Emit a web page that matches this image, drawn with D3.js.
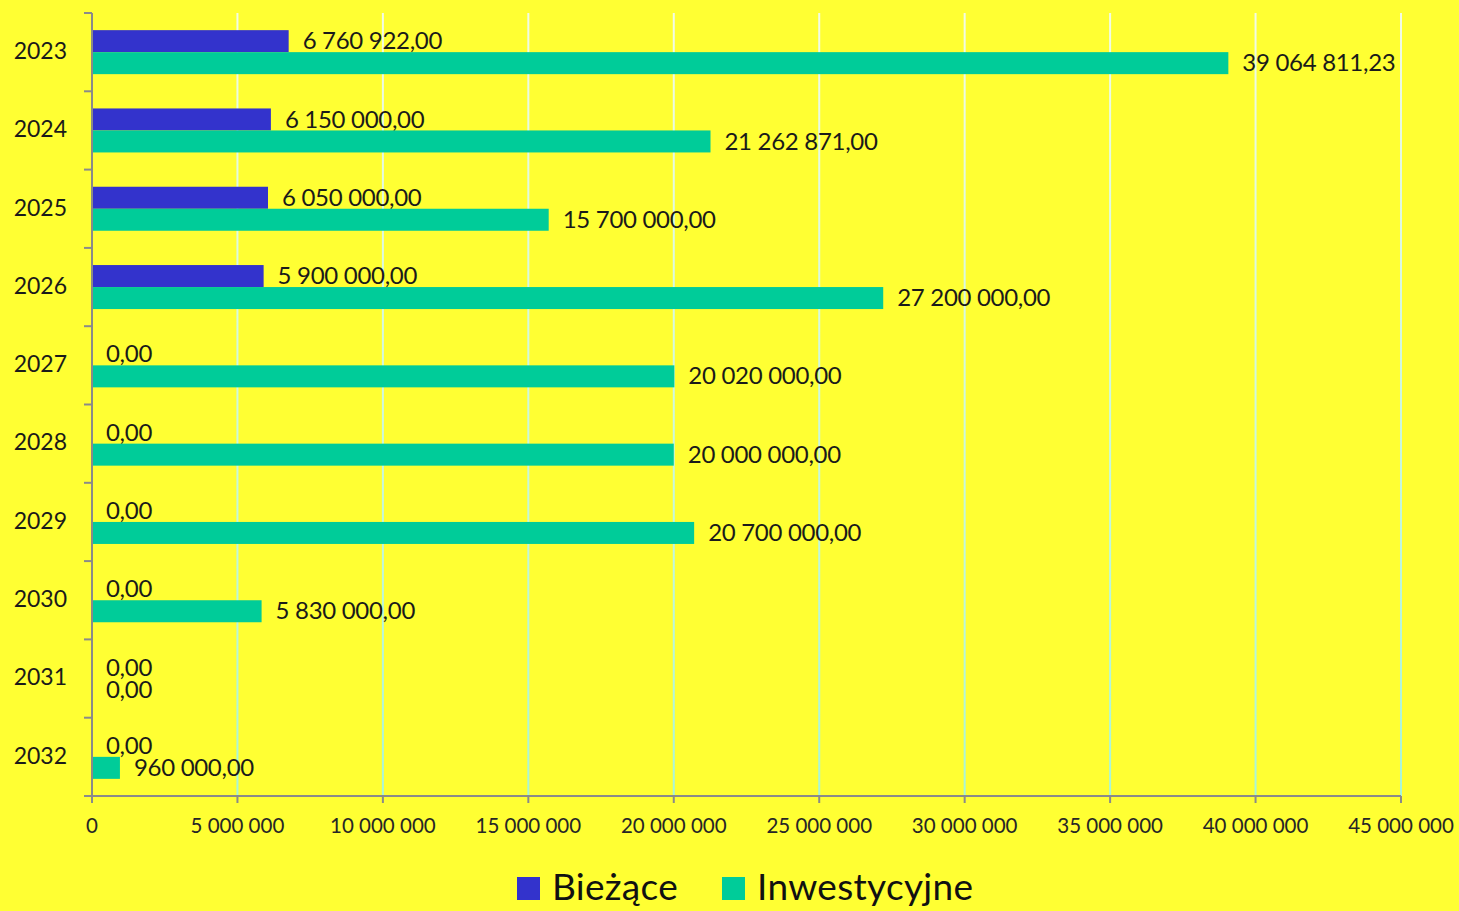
<!DOCTYPE html>
<html>
<head>
<meta charset="utf-8">
<script src="https://cdn.jsdelivr.net/npm/d3@7"></script>
<style>
  html, body { margin: 0; padding: 0; background: #ffff33; }
  svg { display: block; font-family: Lato, "Noto Sans", sans-serif; }
</style>
</head>
<body>
<div id="chart"></div>
<script>
const years = ['2023', '2024', '2025', '2026', '2027', '2028', '2029', '2030', '2031', '2032']
const biezace = [6760922, 6150000, 6050000, 5900000, 0, 0, 0, 0, 0, 0]
const inwestycyjne = [39064811.23, 21262871, 15700000, 27200000, 20020000, 20000000, 20700000, 5830000, 0, 960000]
const xTicks = [0, 5000000, 10000000, 15000000, 20000000, 25000000, 30000000, 35000000, 40000000, 45000000]
const seriesNames = ['Bieżące', 'Inwestycyjne']
const seriesColors = ['#3333cc', '#00cc99']

const w = 1459
const h = 911
const margin = { top: 13, right: 58, bottom: 115, left: 92 }

const pl = d3.formatLocale({ decimal: ',', thousands: ' ', grouping: [3], currency: ['', ''] })
const fmtVal = pl.format(',.2f')
const fmtTick = pl.format(',d')

const svg = d3.select('#chart').append('svg').attr('width', w).attr('height', h)
svg.append('rect').attr('width', w).attr('height', h).attr('fill', '#ffff33')

const x = d3.scaleLinear().domain([0, 45000000]).range([margin.left, w - margin.right])
const y = d3.scaleBand().domain(years).range([margin.top, h - margin.bottom])
const barH = 22

// gridline gradient (whitish at top, pale cyan at bottom)
const grad = svg.append('defs').append('linearGradient')
    .attr('id', 'gridGrad').attr('gradientUnits', 'userSpaceOnUse')
    .attr('x1', 0).attr('y1', margin.top).attr('x2', 0).attr('y2', h - margin.bottom)
grad.append('stop').attr('offset', '0%').attr('stop-color', '#f2fbe6')
grad.append('stop').attr('offset', '100%').attr('stop-color', '#a8f5d8')

svg.append('g').selectAll('line')
    .data(xTicks.slice(1)).enter()
    .append('line')
    .attr('x1', d => x(d)).attr('x2', d => x(d))
    .attr('y1', margin.top).attr('y2', h - margin.bottom)
    .attr('stroke', 'url(#gridGrad)')
    .attr('stroke-width', 2)

// bars
const rows = years.map((yr, i) => ({ yr, vals: [biezace[i], inwestycyjne[i]] }))
const gBars = svg.append('g')
rows.forEach(r => {
    const c = y(r.yr) + y.bandwidth() / 2
    r.vals.forEach((v, s) => {
        const top = c - barH + s * barH
        if (v > 0) {
            gBars.append('rect')
                .attr('x', x(0)).attr('y', top)
                .attr('width', x(v) - x(0)).attr('height', barH)
                .attr('fill', seriesColors[s])
        }
        gBars.append('text')
            .attr('x', x(v) + 14)
            .attr('y', top + barH / 2 + 2)
            .attr('dominant-baseline', 'middle')
            .attr('fill', '#1a1a1a')
            .attr('font-size', '24px')
            .attr('letter-spacing', '-0.3px')
            .text(fmtVal(v))
    })
})

// y axis
const axisColor = '#8a8a8a'
const yAxis = svg.append('g')
yAxis.append('line')
    .attr('x1', x(0)).attr('x2', x(0))
    .attr('y1', margin.top).attr('y2', h - margin.bottom)
    .attr('stroke', axisColor).attr('stroke-width', 2)
const bounds = years.map(d => y(d)).concat([h - margin.bottom])
yAxis.selectAll('.ytick')
    .data(bounds).enter()
    .append('line')
    .attr('x1', x(0) - 8).attr('x2', x(0))
    .attr('y1', d => d).attr('y2', d => d)
    .attr('stroke', axisColor).attr('stroke-width', 2)
yAxis.selectAll('.ylab')
    .data(years).enter()
    .append('text')
    .attr('x', 67)
    .attr('y', d => y(d) + y.bandwidth() / 2 + 1)
    .attr('text-anchor', 'end')
    .attr('dominant-baseline', 'middle')
    .attr('fill', '#1a1a1a')
    .attr('font-size', '23px')
    .text(d => d)

// x axis
const xAxis = svg.append('g')
xAxis.append('line')
    .attr('x1', x(0) - 8).attr('x2', x(45000000))
    .attr('y1', h - margin.bottom).attr('y2', h - margin.bottom)
    .attr('stroke', axisColor).attr('stroke-width', 2)
xAxis.selectAll('.xtick')
    .data(xTicks).enter()
    .append('line')
    .attr('x1', d => x(d)).attr('x2', d => x(d))
    .attr('y1', h - margin.bottom).attr('y2', h - margin.bottom + 7)
    .attr('stroke', axisColor).attr('stroke-width', 2)
xAxis.selectAll('.xlab')
    .data(xTicks).enter()
    .append('text')
    .attr('x', d => x(d))
    .attr('y', h - margin.bottom + 32)
    .attr('text-anchor', 'middle')
    .attr('dominant-baseline', 'middle')
    .attr('fill', '#262626')
    .attr('font-size', '20.5px')
    .text(d => fmtTick(d))

// Legend
const legend = svg.append('g')
const legX = [517, 722]
seriesNames.forEach((name, i) => {
    legend.append('rect')
        .attr('x', legX[i]).attr('y', 877)
        .attr('width', 23).attr('height', 23)
        .attr('fill', seriesColors[i])
    legend.append('text')
        .attr('x', legX[i] + 35).attr('y', 891)
        .attr('dominant-baseline', 'middle')
        .attr('fill', '#111')
        .attr('font-size', '37px')
        .attr('letter-spacing', '0.3px')
        .text(name)
})
</script>
</body>
</html>
